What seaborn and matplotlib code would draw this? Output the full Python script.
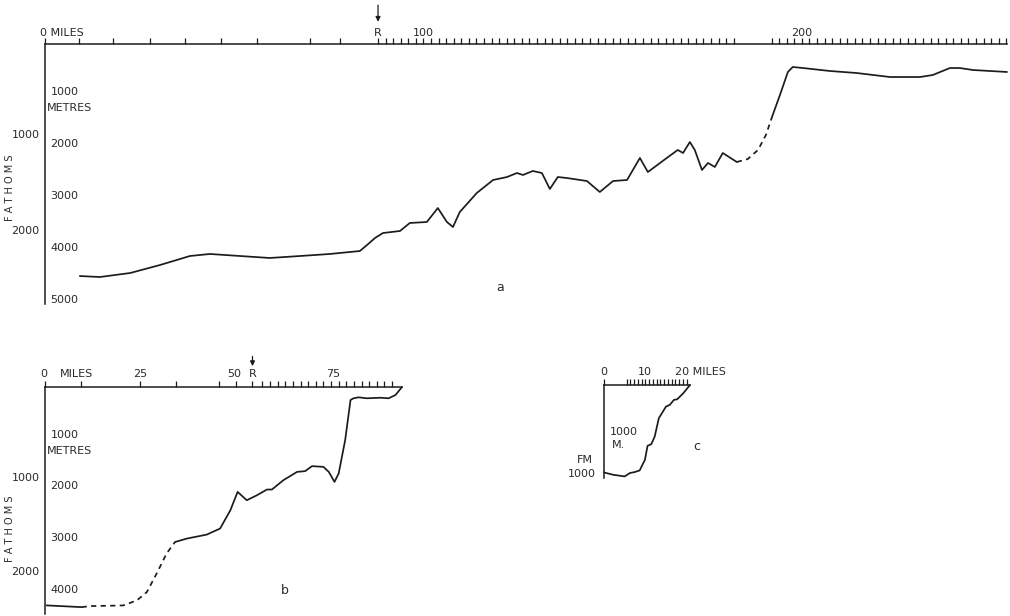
import numpy as np
import pandas as pd
import matplotlib
matplotlib.use('Agg')
import matplotlib.pyplot as plt
from matplotlib.transforms import offset_copy
import seaborn as sns

# section a  (miles along section, depth in metres)
a_mi = [9.2, 14.5, 22.5, 30.4, 38.3, 43.6, 51.5, 59.4, 67.4, 75.3, 83.2, 85.1, 87.2, 89.3, 93.8,
        96.4, 100.9, 103.8, 106.2, 107.8, 109.6, 114.1, 118.4, 122.1, 124.7, 126.3, 128.9, 131.3,
        133.4, 135.5, 137.9, 143.2, 146.6, 150.1, 153.8, 157.2, 159.3, 164.3, 167.2, 168.6, 170.4,
        171.7, 173.6, 175.2, 177.0, 179.1, 182.8]
a_m = [4462, 4481, 4404, 4250, 4077, 4038, 4077, 4115, 4077, 4038, 3981, 3865, 3731, 3635, 3596,
       3442, 3423, 3154, 3423, 3519, 3231, 2865, 2615, 2558, 2481, 2519, 2442, 2481,
       2788, 2558, 2577, 2635, 2846, 2635, 2615, 2192, 2462, 2192, 2038, 2096, 1885,
       2038, 2423, 2288, 2365, 2096, 2269]
a_dash_mi = [182.8, 185.7, 188.4, 190.5, 192.1]
a_dash_m = [2269, 2212, 2038, 1750, 1404]
a_shelf_mi = [192.1, 194.2, 196.3, 197.6, 200.3, 207.4, 214.5, 223.3, 231.2, 234.6, 239.1, 241.7, 245.2, 254.2]
a_shelf_m = [1404, 981, 538, 442, 462, 519, 558, 635, 635, 596, 462, 462, 500, 538]

# section b
b_start_mi = [0.4, 9.6]
b_start_m = [4233, 4267]
b_dash_mi = [9.6, 11.8, 20.5, 24.1, 26.7, 29.3, 31.9, 34.1]
b_dash_m = [4267, 4247, 4234, 4136, 3975, 3612, 3224, 3004]
b_mi = [34.1, 37.2, 42.4, 45.9, 48.6, 50.5, 52.9, 55.6, 58.2, 59.5, 62.5, 66.1, 68.2, 70.0, 73.0,
        74.4, 75.9, 77.0, 78.7, 80.1, 80.9, 82.2, 84.4, 87.9, 90.1, 91.9, 93.6]
b_m = [3004, 2938, 2861, 2744, 2389, 2033, 2195, 2097, 1987, 1987, 1806, 1645, 1631, 1534, 1548,
       1645, 1839, 1676, 1029, 252, 219, 200, 219, 208, 219, 155, 0]

# section c
c_mi = [0, 2.4, 5.5, 6.9, 8.2, 9.5, 10.9, 11.6, 12.6, 13.5, 14.6, 16.5, 17.5, 18.6, 19.5, 21.1, 22.9]
c_m = [1720, 1765, 1798, 1731, 1712, 1680, 1471, 1196, 1163, 1014, 653, 425, 392, 294, 280, 163, 0]

# scale ticks
a_ticks = [0, 9, 18, 27.7, 37, 46.5, 56, 70, 78, 88] + list(range(90, 183, 2)) + list(range(192, 255, 2))
b_ticks = [0, 9.4, 25, 34.4, 45.7, 50, 54.4] + list(range(57, 92, 2))
c_ticks = [0] + list(range(6, 23))
FM = 1.8288  # metres per fathom

sns.set_style('white')
plt.rcParams['font.family'] = ['DejaVu Sans']
INK = '#1c1c1c'
TXT = '#2a2a2a'
FS = 8

W, H = 1010, 616
fig = plt.figure(figsize=(10.1, 6.16), dpi=100)


def panel(box, xmax, ymax, metre_ticks, fathom_ticks, fm_tick_len=5):
    x0, x1, y0, y1 = box
    ax = fig.add_axes([x0 / W, 1 - y1 / H, (x1 - x0) / W, (y1 - y0) / H])
    ax.set_facecolor('none')
    ax.set_xlim(0, xmax)
    ax.set_ylim(ymax, 0)
    for s in ['right', 'bottom']:
        ax.spines[s].set_visible(False)
    for s in ['top', 'left']:
        ax.spines[s].set_color(INK)
        ax.spines[s].set_linewidth(1.1)
    ax.xaxis.tick_top()
    ax.tick_params(axis='x', which='both', direction='out', length=4, width=0.9, color=INK,
                   labeltop=False, labelbottom=False)
    ax.set_yticks(metre_ticks)
    ax.set_yticks([f * FM for f in fathom_ticks], minor=True)
    ax.tick_params(axis='y', which='major', direction='in', length=4.5, width=0.9, color=INK,
                   labelleft=False)
    ax.tick_params(axis='y', which='minor', direction='out', length=fm_tick_len, width=0.9,
                   color=INK, labelleft=False)
    for v in metre_ticks:
        ax.annotate(f'{v}', xy=(0, v), xytext=(4, 0.5), textcoords='offset points',
                    ha='left', va='baseline', fontsize=FS, color=TXT)
    for f in fathom_ticks:
        ax.annotate(f'{f}', xy=(0, f * FM), xytext=(-fm_tick_len + 1, 0.5),
                    textcoords='offset points', ha='right', va='baseline', fontsize=FS,
                    color=TXT, annotation_clip=False)
    return ax


def curve(ax, x, y, dashed=False):
    df = pd.DataFrame({'miles': x, 'depth': y})
    sns.lineplot(data=df, x='miles', y='depth', ax=ax, color=INK, lw=1.25, sort=False,
                 estimator=None, linestyle=(0, (3, 2.5)) if dashed else '-', clip_on=False)
    ax.set_xlabel('')
    ax.set_ylabel('')


def top_label(ax, x, s, dy, ha='center'):
    ax.annotate(s, xy=(x, 0), xytext=(0, dy), textcoords='offset points', ha=ha,
                va='bottom', fontsize=FS, color=TXT, annotation_clip=False)


def marker_r(ax, x, dy_r, head, tail):
    top_label(ax, x, 'R', dy_r)
    ax.annotate('', xy=(x, 0), xycoords=offset_copy(ax.transData, fig=fig, y=head, units='points'),
                xytext=(x, 0), textcoords=offset_copy(ax.transData, fig=fig, y=tail, units='points'),
                arrowprops=dict(arrowstyle='-|>', color=INK, lw=0.9, mutation_scale=7,
                                shrinkA=0, shrinkB=0),
                annotation_clip=False)


def side_text(ax, y, s, dx, dy, **kw):
    ax.annotate(s, xy=(0, y), xytext=(dx, dy), textcoords='offset points',
                fontsize=kw.pop('fontsize', FS), color=TXT, annotation_clip=False, **kw)


# ---- a
ax_a = panel((45, 1007, 44, 304), 254.2, 5000, [1000, 2000, 3000, 4000, 5000], [1000, 2000])
ax_a.set_xticks(a_ticks)
curve(ax_a, a_mi, a_m)
curve(ax_a, a_dash_mi, a_dash_m, dashed=True)
curve(ax_a, a_shelf_mi, a_shelf_m)
top_label(ax_a, -1.3, '0 MILES', 4, ha='left')
top_label(ax_a, 100, '100', 4)
top_label(ax_a, 200, '200', 4)
marker_r(ax_a, 88, 4.5, 16, 28)
side_text(ax_a, 1000, 'METRES', 1, -11, ha='left', va='baseline')
side_text(ax_a, 2770, 'F A T H O M S', -25, 0, ha='center', va='center', rotation=90, fontsize=7)
ax_a.text(120.2, 4692, 'a', fontsize=9, color=TXT, ha='center', va='center')

# ---- b
ax_b = panel((45, 402, 387, 614), 93.6, 4400, [1000, 2000, 3000, 4000], [1000, 2000])
ax_b.set_xticks(b_ticks)
curve(ax_b, b_start_mi, b_start_m)
curve(ax_b, b_dash_mi, b_dash_m, dashed=True)
curve(ax_b, b_mi, b_m)
top_label(ax_b, -1.3, '0', 5.5, ha='left')
top_label(ax_b, 4, 'MILES', 5.5, ha='left')
top_label(ax_b, 25, '25', 5.5)
top_label(ax_b, 49.5, '50', 5.5)
top_label(ax_b, 75.5, '75', 5.5)
marker_r(ax_b, 54.4, 5.5, 15, 22)
side_text(ax_b, 1000, 'METRES', 1, -11, ha='left', va='baseline')
side_text(ax_b, 2740, 'F A T H O M S', -25, 0, ha='center', va='center', rotation=90, fontsize=7)
ax_b.text(63, 3942, 'b', fontsize=9, color=TXT, ha='center', va='center')

# ---- c
ax_c = panel((604, 690, 385, 478), 22.9, 1829, [1000], [1000], fm_tick_len=7)
ax_c.set_xticks(c_ticks)
curve(ax_c, c_mi, c_m)
top_label(ax_c, 0, '0', 5.5)
top_label(ax_c, 10.9, '10', 5.5)
top_label(ax_c, 18.8, '20 MILES', 5.5, ha='left')
side_text(ax_c, 1000, 'M.', 6, -8.5, ha='left', va='baseline')
side_text(ax_c, 1000 * FM, 'FM', -14, 11, ha='center', va='baseline')
ax_c.text(24.7, 1218, 'c', fontsize=9, color=TXT, ha='center', va='center')

fig.savefig('out.png', dpi=100, facecolor='white')
